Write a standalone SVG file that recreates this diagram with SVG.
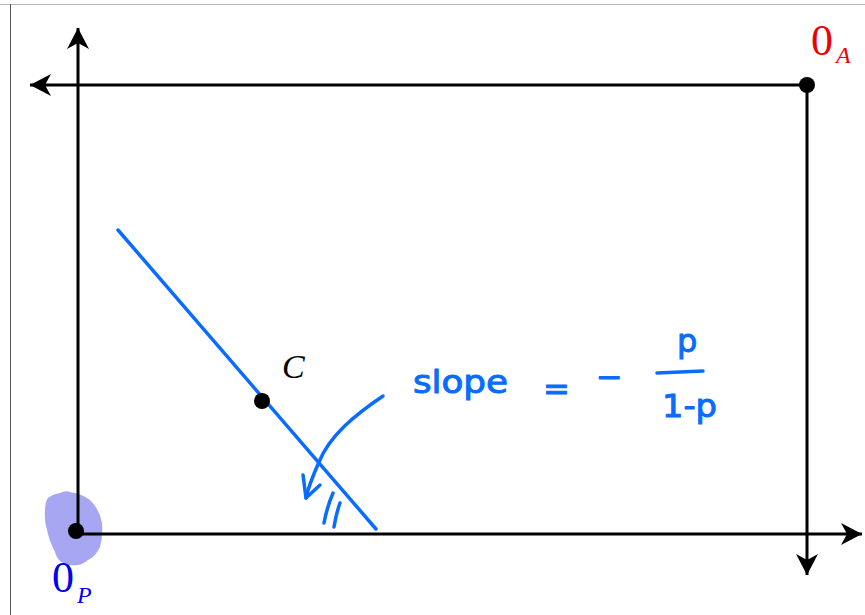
<svg xmlns="http://www.w3.org/2000/svg" width="865" height="615" viewBox="0 0 865 615">
<style>
.axis{stroke:#000;stroke-width:3;fill:none}
.blue{stroke:#0a6cff;stroke-width:3.5;fill:none;stroke-linecap:round;stroke-linejoin:round}
.hand{font-family:"DejaVu Sans",sans-serif;font-size:32px;fill:#0a6cff;stroke:#0a6cff;stroke-width:1;stroke-linejoin:round}
.math{font-family:"Liberation Serif",serif}
</style>
<defs>
<marker id="ah" markerUnits="userSpaceOnUse" markerWidth="24" markerHeight="24" viewBox="-22 -12 24 24" refX="0" refY="0" orient="auto">
<path d="M0,0 L-21,-11 L-15,0 L-21,11 Z" fill="#000"/>
</marker>
</defs>
<rect width="865" height="615" fill="#fff"/>
<g id="frame">
<line x1="0" y1="4.5" x2="865" y2="4.5" stroke="#bbb" stroke-width="1"/>
<line x1="10.5" y1="4" x2="10.5" y2="615" stroke="#555" stroke-width="1"/>
</g>
<g id="blob"><path d="M60,493 Q66,490 70,492 Q82,494 90,500 Q100,510 102,523 Q103,537 100,547 Q95,557 88,560 Q82,565 77,565 Q68,566 63,563 Q57,560 55,552 Q49,540 47,530 Q44,520 45,510 Q45,502 48,498 Q53,494 60,493 Z" fill="#a6a6f2"/></g>
<g id="connectors">
<line class="axis" x1="78" y1="535" x2="78" y2="28" marker-end="url(#ah)"/>
<line class="axis" x1="76" y1="534" x2="862" y2="534" marker-end="url(#ah)"/>
<line class="axis" x1="807" y1="85" x2="30" y2="85" marker-end="url(#ah)"/>
<line class="axis" x1="807" y1="85" x2="807" y2="575" marker-end="url(#ah)"/>
</g>
<g id="budget-line"><line class="blue" x1="118" y1="230" x2="376" y2="529"/></g>
<g id="point-C">
<circle cx="262" cy="401" r="8" fill="#000"/>
<text class="math" x="282" y="378" font-size="34" font-style="italic">C</text>
</g>
<g id="origin-P">
<circle cx="76" cy="531" r="8" fill="#000"/>
<text class="math" x="52" y="592" font-size="44" fill="#0000ee">0</text>
<text class="math" x="77" y="603" font-size="24" font-style="italic" fill="#0000ee">P</text>
</g>
<g id="origin-A">
<circle cx="807" cy="85" r="8" fill="#000"/>
<text class="math" x="811" y="55" font-size="44" fill="#ee0000">0</text>
<text class="math" x="836" y="63" font-size="24" font-style="italic" fill="#ee0000">A</text>
</g>
<g id="annotation">
<path class="blue" d="M383,396 C355,415 330,435 319,462 C312,478 308,488 306,498"/>
<path class="blue" d="M303,475 L306,498 L320,485"/>
<path class="blue" d="M333,493 Q327,507 324,523"/>
<path class="blue" d="M340,503 Q336,514 334,527"/>
<text class="hand" x="413" y="393" textLength="95" lengthAdjust="spacingAndGlyphs">slope</text>
<text class="hand" x="543" y="400">=</text>
<text class="hand" x="596" y="388">−</text>
<text class="hand" x="677" y="352">p</text>
<line class="blue" x1="657" y1="373" x2="703" y2="371"/>
<text class="hand" x="662" y="417" textLength="55" lengthAdjust="spacingAndGlyphs">1-p</text>
</g>
</svg>
